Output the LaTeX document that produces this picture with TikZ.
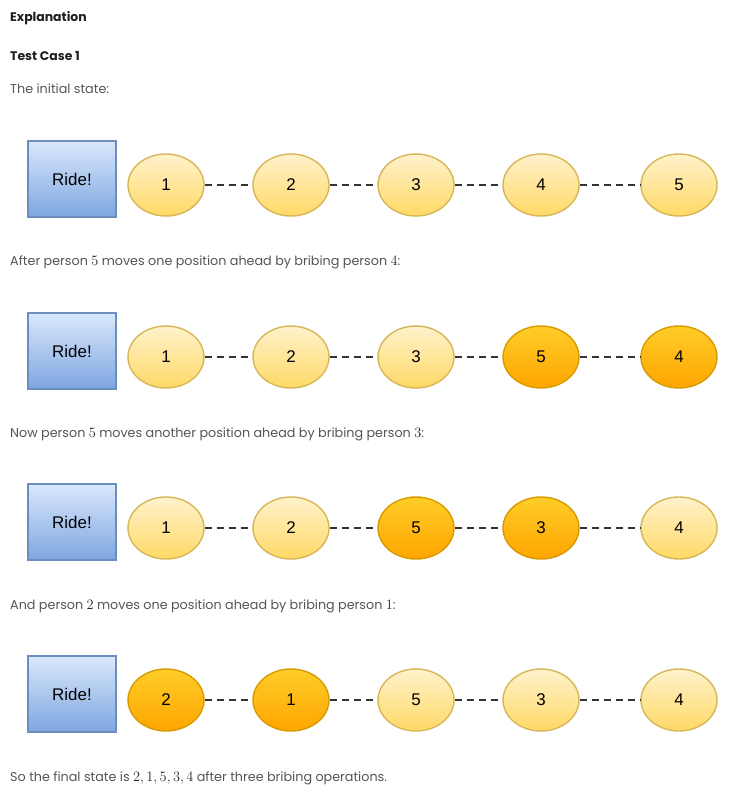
\documentclass[tikz,border=0pt]{standalone}
\usepackage{fontspec}
\setmainfont{Poppins}
\newfontfamily\labelfont{Liberation Sans}
\usetikzlibrary{shapes.geometric,positioning}

\definecolor{yfill}{HTML}{FFF2CC}
\definecolor{yfilldark}{HTML}{FFD966}
\definecolor{yline}{HTML}{D6B656}
\definecolor{ofill}{HTML}{FFCD28}
\definecolor{ofilldark}{HTML}{FFA500}
\definecolor{oline}{HTML}{D79B00}
\definecolor{bfill}{HTML}{DAE8FC}
\definecolor{bfilldark}{HTML}{7EA6E0}
\definecolor{bline}{HTML}{6C8EBF}
\definecolor{bodytext}{HTML}{555555}
\definecolor{headtext}{HTML}{1F1F1F}

\newcommand{\pnum}[1]{{\fontsize{14.5}{15}\selectfont\color{black!85}$#1$}}

\begin{document}
\begin{tikzpicture}[x=1bp, y=-1bp, node distance=125bp]
	\tikzstyle{person}=[ellipse, minimum width=76bp, minimum height=62bp, inner sep=0pt,
		line width=1.4bp, font=\labelfont\fontsize{17}{19}\selectfont, text=black]
	\tikzstyle{waiting}=[person, draw=yline, top color=yfill, bottom color=yfilldark]
	\tikzstyle{briber}=[person, draw=oline, top color=ofill, bottom color=ofilldark]
	\tikzstyle{ride}=[rectangle, minimum width=88bp, minimum height=76bp, line width=1.6bp,
		draw=bline, top color=bfill, bottom color=bfilldark,
		font=\labelfont\fontsize{17}{19}\selectfont, text=black]
	\tikzstyle{queue}=[line width=2.6bp, draw=black!80, dash pattern=on 7bp off 5bp]
	\tikzstyle{heading}=[anchor=west, inner sep=0pt, font=\bfseries\fontsize{12.5}{14}\selectfont, text=headtext]
	\tikzstyle{caption}=[anchor=west, inner sep=0pt, font=\fontsize{12.8}{15}\selectfont, text=bodytext]

	\useasboundingbox (0,0) rectangle (734,796);

	% texts
	\node[heading] (title)  at (10,18)  {Explanation};
	\node[heading] (case)   at (10,56)  {Test Case 1};
	\node[caption] (cap1)   at (10,89)  {The initial state:};
	\node[caption] (cap2)   at (10,262) {After person \pnum{5} moves one position ahead by bribing person \pnum{4}:};
	\node[caption] (cap3)   at (10,434) {Now person \pnum{5} moves another position ahead by bribing person \pnum{3}:};
	\node[caption] (cap4)   at (10,606) {And person \pnum{2} moves one position ahead by bribing person \pnum{1}:};
	\node[caption] (cap5)   at (10,778) {So the final state is \pnum{2, 1, 5, 3, 4} after three bribing operations.};

	% initial state
	\node[ride]    (r1)     at (72,179)  {Ride!};
	\node[waiting] (a1)     at (166,185) {1};
	\node[waiting] (a2)     [right of=a1] {2};
	\node[waiting] (a3)     [right of=a2] {3};
	\node[waiting] (a4)     [right of=a3] {4};
	\node[waiting] (a5)     [right of=a4, xshift=13bp] {5};

	% 5 bribes 4
	\node[ride]    (r2)     at (72,351)  {Ride!};
	\node[waiting] (b1)     at (166,357) {1};
	\node[waiting] (b2)     [right of=b1] {2};
	\node[waiting] (b3)     [right of=b2] {3};
	\node[briber]  (b4)     [right of=b3] {5};
	\node[briber]  (b5)     [right of=b4, xshift=13bp] {4};

	% 5 bribes 3
	\node[ride]    (r3)     at (72,522)  {Ride!};
	\node[waiting] (c1)     at (166,528) {1};
	\node[waiting] (c2)     [right of=c1] {2};
	\node[briber]  (c3)     [right of=c2] {5};
	\node[briber]  (c4)     [right of=c3] {3};
	\node[waiting] (c5)     [right of=c4, xshift=13bp] {4};

	% 2 bribes 1
	\node[ride]    (r4)     at (72,694)  {Ride!};
	\node[briber]  (d1)     at (166,700) {2};
	\node[briber]  (d2)     [right of=d1] {1};
	\node[waiting] (d3)     [right of=d2] {5};
	\node[waiting] (d4)     [right of=d3] {3};
	\node[waiting] (d5)     [right of=d4, xshift=13bp] {4};

	% dashed links in each queue
	\draw[queue] (a1) -- (a2) (a2) -- (a3) (a3) -- (a4) (a4) -- (a5);
	\draw[queue] (b1) -- (b2) (b2) -- (b3) (b3) -- (b4) (b4) -- (b5);
	\draw[queue] (c1) -- (c2) (c2) -- (c3) (c3) -- (c4) (c4) -- (c5);
	\draw[queue] (d1) -- (d2) (d2) -- (d3) (d3) -- (d4) (d4) -- (d5);
\end{tikzpicture}
\end{document}
